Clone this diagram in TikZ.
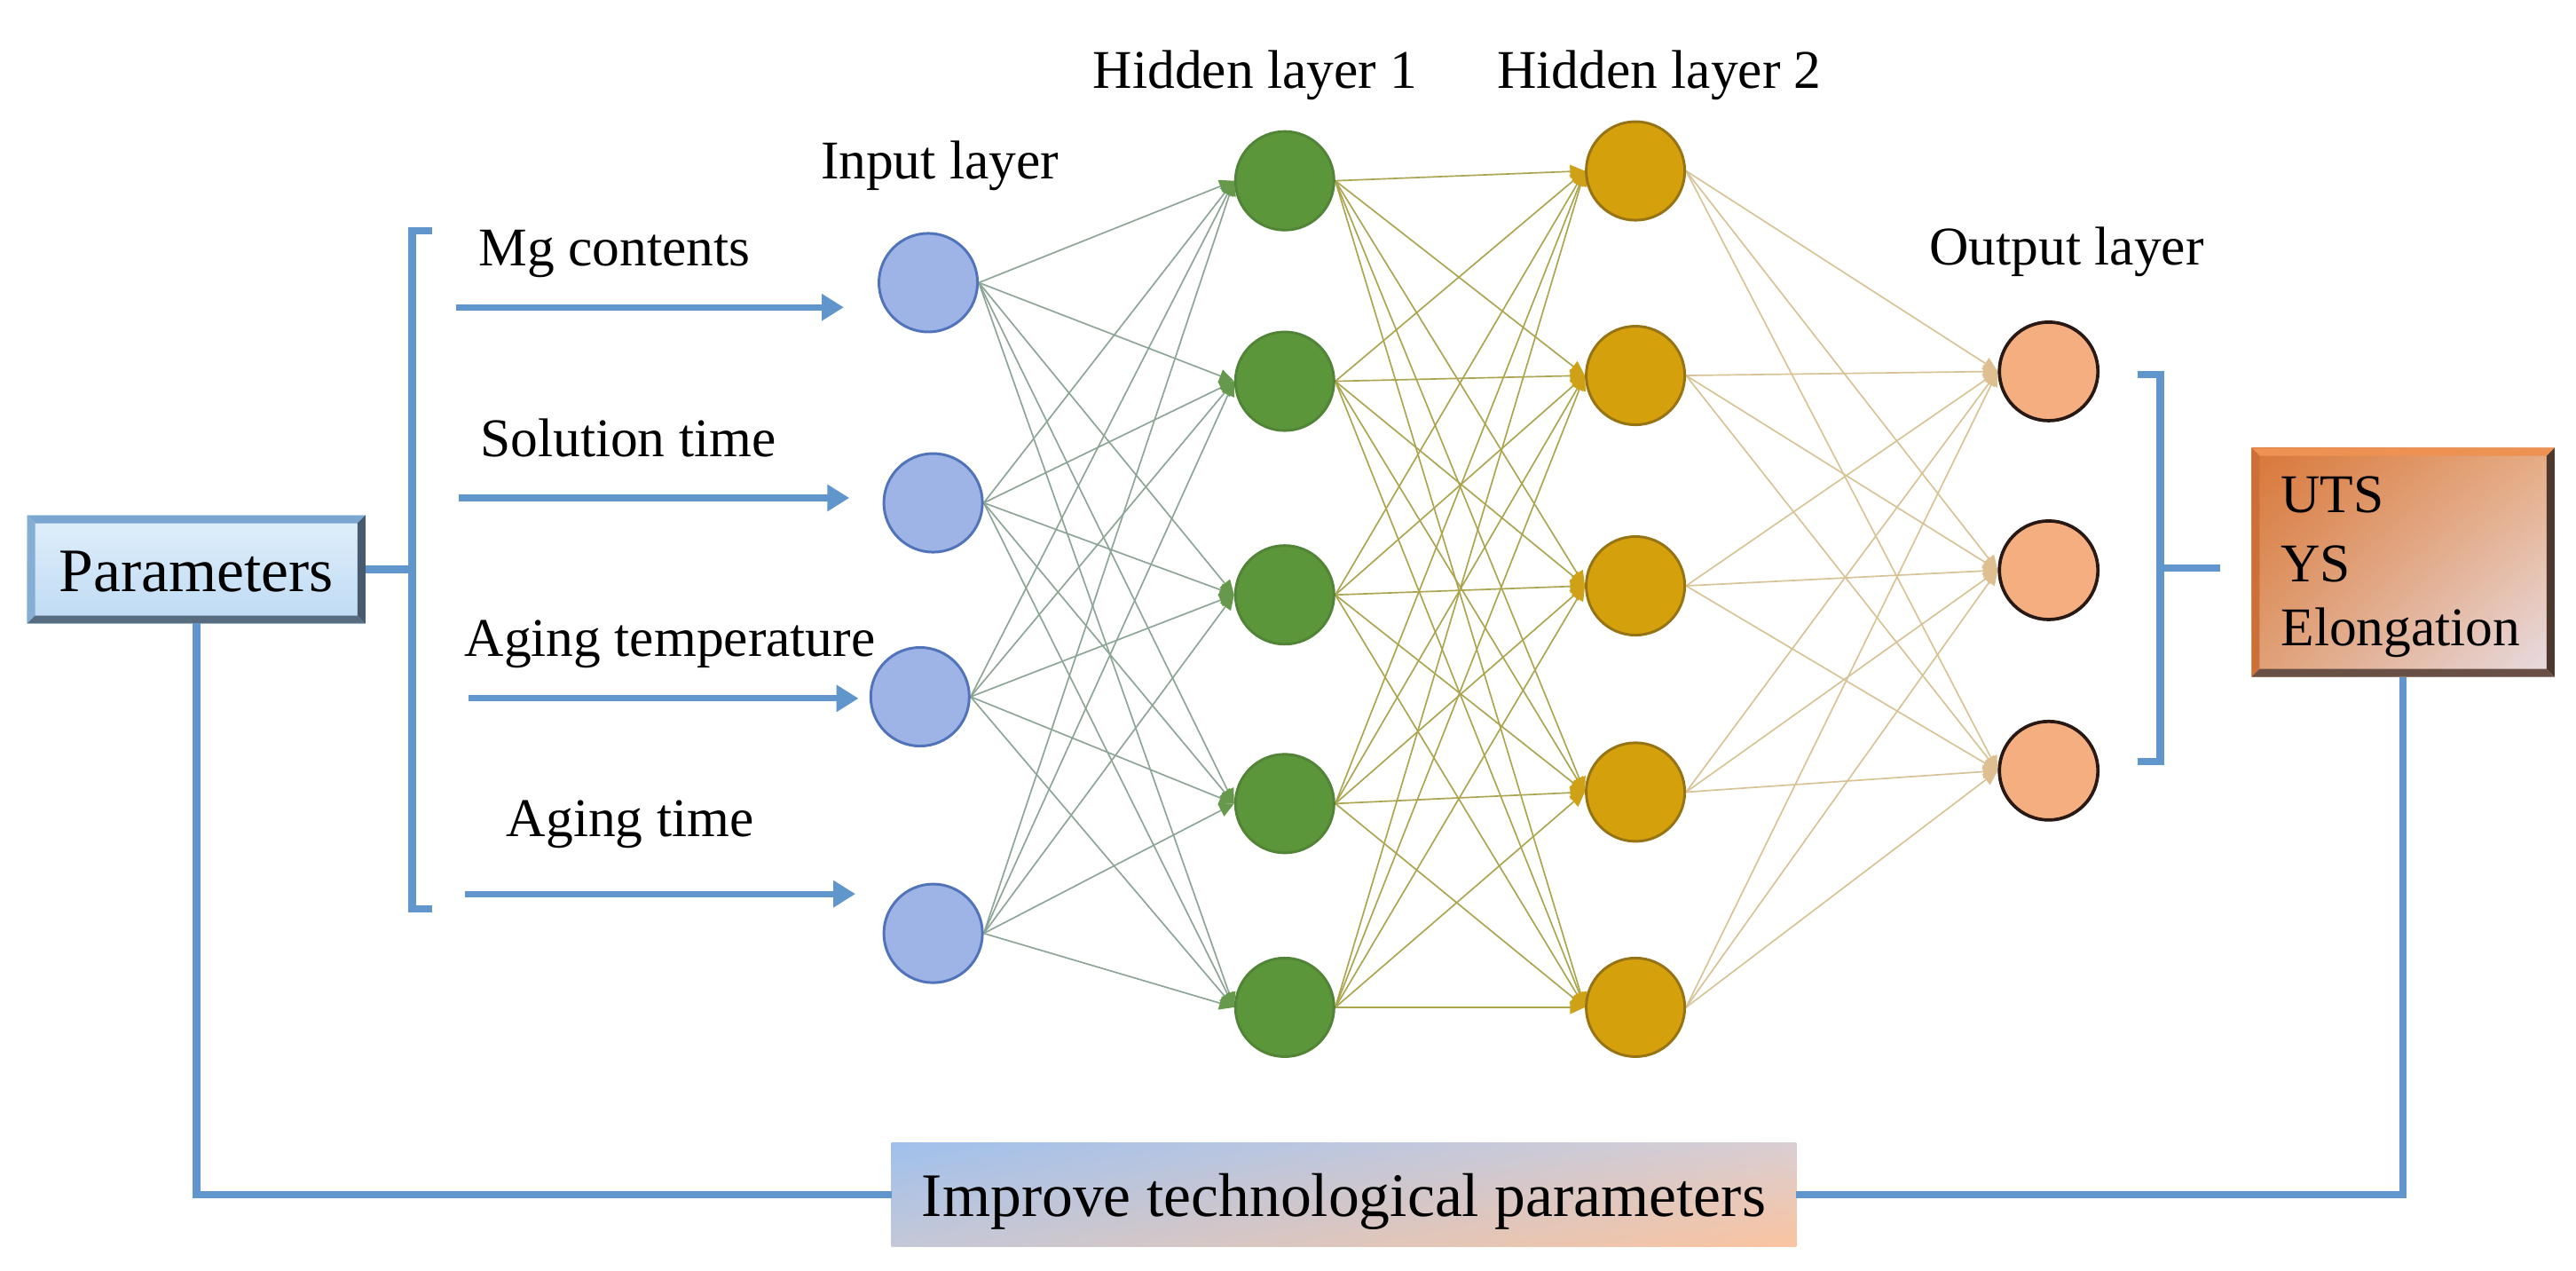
\documentclass[tikz,border=0pt]{standalone}
\usepackage{fontspec}
\setmainfont{Liberation Serif}
\usetikzlibrary{arrows.meta,backgrounds,shadings}
\definecolor{lineblue}{RGB}{96,150,204}
\definecolor{infill}{RGB}{158,180,230}
\definecolor{indraw}{RGB}{80,115,185}
\definecolor{honefill}{RGB}{92,150,58}
\definecolor{honedraw}{RGB}{82,132,55}
\definecolor{htwofill}{RGB}{212,160,12}
\definecolor{htwodraw}{RGB}{150,115,20}
\definecolor{outfill}{RGB}{244,174,128}
\definecolor{outdraw}{RGB}{40,25,20}
\definecolor{cone}{RGB}{140,165,150}
\definecolor{ctwo}{RGB}{172,165,80}
\definecolor{cthree}{RGB}{215,195,150}
% parameters box
\definecolor{parhi}{RGB}{224,239,251}
\definecolor{parlo}{RGB}{190,218,243}
\definecolor{parT}{RGB}{122,167,207}
\definecolor{parL}{RGB}{132,174,212}
\definecolor{parR}{RGB}{72,90,110}
\definecolor{parB}{RGB}{88,108,128}
% result box
\definecolor{resUL}{RGB}{216,118,56}
\definecolor{resUR}{RGB}{230,172,132}
\definecolor{resLL}{RGB}{224,160,118}
\definecolor{resLR}{RGB}{232,222,230}
\definecolor{resT}{RGB}{238,146,84}
\definecolor{resL}{RGB}{205,112,55}
\definecolor{resR}{RGB}{78,56,46}
\definecolor{resB}{RGB}{104,80,70}
% improve box
\definecolor{impUL}{RGB}{160,192,236}
\definecolor{impUR}{RGB}{218,206,210}
\definecolor{impLL}{RGB}{196,200,216}
\definecolor{impLR}{RGB}{250,196,160}
\newcommand\bevbox[6]{%
 \fill[#3] (#1.north west) -- (#1.north east) -- ([xshift=-#2,yshift=-#2]#1.north east) -- ([xshift=#2,yshift=-#2]#1.north west) -- cycle;
 \fill[#4] (#1.north west) -- (#1.south west) -- ([xshift=#2,yshift=#2]#1.south west) -- ([xshift=#2,yshift=-#2]#1.north west) -- cycle;
 \fill[#5] (#1.north east) -- (#1.south east) -- ([xshift=-#2,yshift=#2]#1.south east) -- ([xshift=-#2,yshift=-#2]#1.north east) -- cycle;
 \fill[#6] (#1.south west) -- (#1.south east) -- ([xshift=-#2,yshift=#2]#1.south east) -- ([xshift=#2,yshift=#2]#1.south west) -- cycle;
}
\begin{document}
\begin{tikzpicture}[x=0.5pt,y=-0.5pt,
  lab/.style={font=\fontsize{16.6}{20}\selectfont, inner sep=0, anchor=base},
  neuron/.style={circle, minimum size=30pt, inner sep=0, line width=0.8pt},
  inn/.style={neuron, fill=infill, draw=indraw},
  hone/.style={neuron, fill=honefill, draw=honedraw},
  htwo/.style={neuron, fill=htwofill, draw=htwodraw},
  outn/.style={neuron, fill=outfill, draw=outdraw, line width=1pt},
  bline/.style={draw=lineblue, line width=2.3pt},
  inarrow/.style={draw=lineblue, line width=1.9pt, -{Triangle[length=6.7pt,width=7.8pt]}},
  conn/.style={line width=0.45pt},
]
\useasboundingbox (0,0) rectangle (1568,773);
\begin{pgfonlayer}{background}
\fill[white] (0,0) rectangle (1568,773);
\end{pgfonlayer}

% neurons
\node[inn] (i1) at (565,172) {};
\node[inn] (i2) at (568,306) {};
\node[inn] (i3) at (560,424) {};
\node[inn] (i4) at (568,568) {};
\node[hone] (a1) at (782,110) {};
\node[hone] (a2) at (782,232) {};
\node[hone] (a3) at (782,362) {};
\node[hone] (a4) at (782,489) {};
\node[hone] (a5) at (782,613) {};
\node[htwo] (b1) at (995.5,104) {};
\node[htwo] (b2) at (995.5,228.5) {};
\node[htwo] (b3) at (995.5,356.5) {};
\node[htwo] (b4) at (995.5,482) {};
\node[htwo] (b5) at (995.5,613) {};
\node[outn] (o1) at (1247,226) {};
\node[outn] (o2) at (1247,347) {};
\node[outn] (o3) at (1247,469) {};

% connections
\begin{pgfonlayer}{background}
\foreach \p in {1,...,4}{\foreach \q in {1,...,5}{
  \draw[conn, cone, -{Triangle[length=4.5pt,width=4pt,color=honefill!80!cone]}] (i\p.east) -- (a\q.west);}}
\foreach \p in {1,...,5}{\foreach \q in {1,...,5}{
  \draw[conn, ctwo, -{Triangle[length=4.5pt,width=4pt,color=htwofill!85!ctwo]}] (a\p.east) -- (b\q.west);}}
\foreach \p in {1,...,5}{\foreach \q in {1,...,3}{
  \draw[conn, cthree, -{Triangle[length=4.5pt,width=4pt,color=cthree!80!outfill]}] (b\p.east) -- (o\q.west);}}
\end{pgfonlayer}

% layer labels
\node[lab] (tin) at (572,109) {Input layer};
\node[lab] (thone) at (764,54) {Hidden layer 1};
\node[lab] (thtwo) at (1010,54) {Hidden layer 2};
\node[lab] (tout) at (1258,161) {Output layer};

% input labels and arrows
\node[lab, anchor=base west] (l1) at (291,162) {Mg contents};
\node[lab, anchor=base west] (l2) at (292,278) {Solution time};
\node[lab, anchor=base west] (l3) at (282.5,399.5) {Aging temperature};
\node[lab, anchor=base west] (l4) at (308,509) {Aging time};
\coordinate (s1) at (277.6,187); \coordinate (e1) at (513.6,187);
\coordinate (s2) at (279,303);   \coordinate (e2) at (517,303);
\coordinate (s3) at (285,425);   \coordinate (e3) at (522.6,425);
\coordinate (s4) at (283,544);   \coordinate (e4) at (520.7,544);
\foreach \k in {1,...,4}{\draw[inarrow] (s\k) -- (e\k);}

% Parameters box
\node[minimum width=102.5pt, minimum height=32.5pt, inner sep=0,
      text height=17pt, text depth=3.5pt,
      font=\fontsize{18.8}{22}\selectfont] (par) at (119.5,346.5) {Parameters};
\begin{pgfonlayer}{background}
\shade[top color=parhi, bottom color=parlo] (par.north west) rectangle (par.south east);
\bevbox{par}{2.4pt}{parT}{parL}{parR}{parB}
\end{pgfonlayer}

% result box
\node[minimum width=91.75pt, minimum height=69.25pt, inner sep=0] (res) at (1462.75,342.25) {};
\begin{pgfonlayer}{background}
\shade[upper left=resUL, upper right=resUR, lower left=resLL, lower right=resLR]
  (res.north west) rectangle (res.south east);
\bevbox{res}{2.4pt}{resT}{resL}{resR}{resB}
\end{pgfonlayer}
\node[lab, anchor=base west] (r1) at (1388,312) {UTS};
\node[lab, anchor=base west] (r2) at (1388,354) {YS};
\node[lab, anchor=base west] (r3) at (1388,393) {Elongation};

% improve box
\node[minimum width=275pt, minimum height=31pt, inner sep=0,
      text height=16.5pt, text depth=3.5pt,
      font=\fontsize{18.8}{22}\selectfont] (imp) at (818,727) {Improve technological parameters};
\begin{pgfonlayer}{background}
\shade[upper left=impUL, upper right=impUR, lower left=impLL, lower right=impLR]
  (imp.north west) rectangle (imp.south east);
\end{pgfonlayer}

% brackets
\coordinate (lbt) at (263,140.5); \coordinate (lbtc) at (251,140.5);
\coordinate (lbb) at (263,553);   \coordinate (lbbc) at (251,553);
\draw[bline] (lbt) -- (lbtc) -- (lbbc) -- (lbb);
\draw[bline] (par.east) -- (par.east -| lbtc);
\coordinate (rbt) at (1301,228); \coordinate (rbtc) at (1315,228);
\coordinate (rbb) at (1301,463.4); \coordinate (rbbc) at (1315,463.4);
\coordinate (rbm) at (1351.5,345.7);
\draw[bline] (rbt) -- (rbtc) -- (rbbc) -- (rbb);
\draw[bline] (rbm -| rbtc) -- (rbm);

% feedback loop
\draw[bline] (par.south) |- (imp.west);
\draw[bline] (imp.east) -| (res.south);
\end{tikzpicture}
\end{document}
